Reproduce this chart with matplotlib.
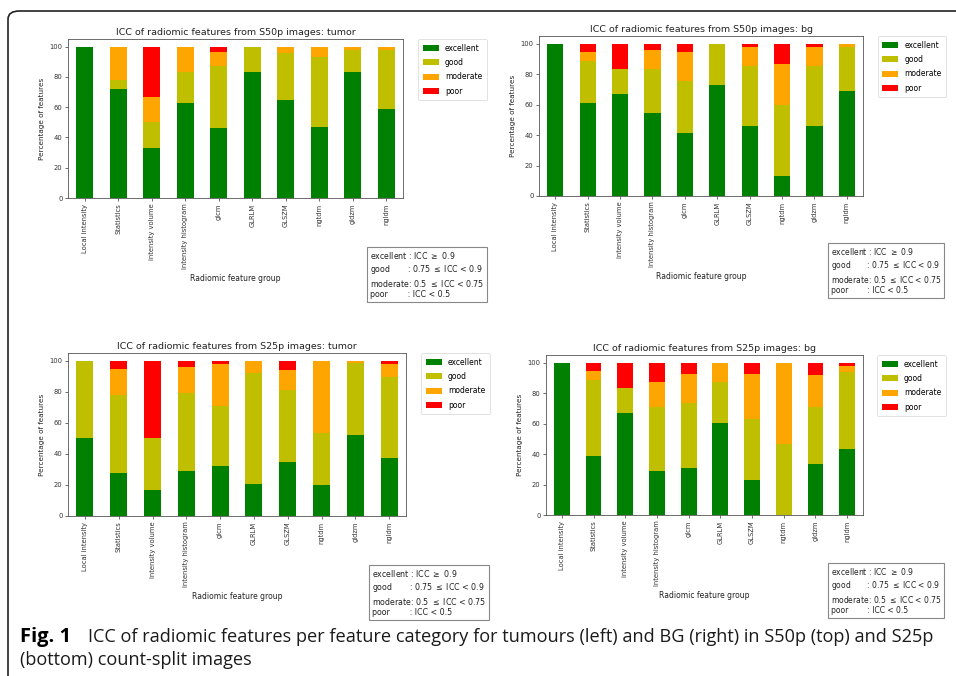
import matplotlib
matplotlib.use("Agg")
import matplotlib.pyplot as plt
from matplotlib.patches import FancyBboxPatch
import numpy as np

groups = ["Local intensity", "Statistics", "intensity volume", "Intensity histogram",
          "glcm", "GLRLM", "GLSZM", "ngtdm", "gldzm", "ngldm"]
levels = ["excellent", "good", "moderate", "poor"]
colors = ["#008000", "#BFBF00", "#FFA500", "#FF0000"]

# S50p tumor
s50_tumor_exc = [100, 72.2, 33.3, 62.5, 46.2, 83.3, 64.6, 46.7, 83.3, 58.5]
s50_tumor_good = [0, 5.6, 16.7, 20.8, 40.8, 16.7, 31.2, 46.7, 14.5, 39.3]
s50_tumor_mod = [0, 22.2, 16.7, 16.7, 9.3, 0, 4.2, 6.6, 2.2, 2.2]
s50_tumor_poor = [0, 0, 33.3, 0, 3.7, 0, 0, 0, 0, 0]

# S50p bg
s50_bg_exc = [100, 61.1, 66.7, 54.2, 41.4, 72.8, 46.1, 13.3, 46.1, 68.8]
s50_bg_good = [0, 27.8, 16.6, 29.2, 34.1, 27.2, 39.0, 46.7, 39.0, 29.2]
s50_bg_mod = [0, 5.5, 0, 12.5, 18.9, 0, 12.9, 26.7, 12.9, 2.0]
s50_bg_poor = [0, 5.6, 16.7, 4.1, 5.6, 0, 2.0, 13.3, 2.0, 0]

# S25p tumor
s25_tumor_exc = [50, 27.8, 16.7, 29.2, 32.1, 20.7, 35.1, 20.0, 52.2, 37.3]
s25_tumor_good = [50, 50.0, 33.3, 50.0, 38.6, 71.3, 45.9, 33.3, 46.3, 52.1]
s25_tumor_mod = [0, 16.7, 0, 16.6, 26.9, 8.0, 12.8, 46.7, 1.5, 8.7]
s25_tumor_poor = [0, 5.5, 50, 4.2, 2.4, 0, 6.2, 0, 0, 1.9]

# S25p bg
s25_bg_exc = [100, 38.9, 66.7, 29.2, 30.8, 60.5, 22.9, 0, 33.4, 43.2]
s25_bg_good = [0, 50.0, 16.6, 41.6, 43.0, 26.8, 40.0, 46.7, 37.3, 50.9]
s25_bg_mod = [0, 5.5, 0, 16.7, 18.6, 12.7, 29.5, 53.3, 21.2, 3.9]
s25_bg_poor = [0, 5.6, 16.7, 12.5, 7.6, 0, 7.6, 0, 8.1, 2.0]

titles = ["ICC of radiomic features from S50p images: tumor",
          "ICC of radiomic features from S50p images: bg",
          "ICC of radiomic features from S25p images: tumor",
          "ICC of radiomic features from S25p images: bg"]

panels = [
    [s50_tumor_exc, s50_tumor_good, s50_tumor_mod, s50_tumor_poor],
    [s50_bg_exc, s50_bg_good, s50_bg_mod, s50_bg_poor],
    [s25_tumor_exc, s25_tumor_good, s25_tumor_mod, s25_tumor_poor],
    [s25_bg_exc, s25_bg_good, s25_bg_mod, s25_bg_poor],
]

icc_text = ("excellent : ICC $\\geq$ 0.9\n"
            "good       : 0.75 $\\leq$ ICC < 0.9\n"
            "moderate: 0.5 $\\leq$ ICC < 0.75\n"
            "poor        : ICC < 0.5")

W, H = 956, 676
fig = plt.figure(figsize=(W / 100, H / 100), dpi=100)


def px(l, t, r, b):
    return [l / W, 1 - b / H, (r - l) / W, (b - t) / H]


axes_px = [(68, 39, 403, 198), (539, 36, 863, 196), (68, 353, 406, 516), (546, 355, 863, 515)]
box_px = [(370, 250), (831, 246), (372, 568), (831, 566)]
box_font = [5.7, 5.5, 5.7, 5.5]

for i, ax_box in enumerate(axes_px):
    ax = fig.add_axes(px(*ax_box))
    x = np.arange(len(groups))
    bottom = np.zeros(len(groups))
    for vals, lab, c in zip(panels[i], levels, colors):
        ax.bar(x, vals, 0.5, bottom=bottom, color=c, label=lab)
        bottom += np.array(vals)
    ax.set_xlim(-0.5, len(groups) - 0.5)
    ax.set_ylim(0, 105)
    ax.set_yticks([0, 20, 40, 60, 80, 100])
    ax.set_xticks(x)
    ax.set_xticklabels(groups, rotation=90)
    ax.tick_params(labelsize=4.9, length=2.5, width=0.5, pad=1.5, colors="#333333")
    for s in ax.spines.values():
        s.set_linewidth(0.6)
        s.set_color("#555555")
    ax.set_title(titles[i], fontsize=6.8, pad=3, color="#222222")
    ax.set_ylabel("Percentage of features", fontsize=5.2, labelpad=3, color="#222222")
    ax.set_xlabel("Radiomic feature group", fontsize=5.5, labelpad=3, color="#222222")
    leg = ax.legend(loc="upper left", bbox_to_anchor=(1.045, 1.0), fontsize=5.5,
                    borderaxespad=0, handlelength=2.1, handleheight=0.8,
                    labelspacing=0.7, borderpad=0.6, handletextpad=0.8)
    leg.get_frame().set_linewidth(0.5)
    bx, by = box_px[i]
    fig.text(bx / W, 1 - by / H, icc_text, fontsize=box_font[i], va="top", ha="left",
             linespacing=1.2, color="#222222",
             bbox=dict(boxstyle="square,pad=0.35", fc="white", ec="#888888", lw=0.8))

# outer frame
frame = FancyBboxPatch((8 / W, -0.2), 1.2, 1 - 11 / H + 0.2,
                       boxstyle="round,pad=0,rounding_size=0.012",
                       transform=fig.transFigure, fill=False, ec="#222222", lw=1.2)
fig.patches.append(frame)

fig.text(20 / W, 1 - 637 / H, "Fig. 1", fontsize=14.5, fontweight="bold",
         family="Open Sans", va="center", ha="left")
fig.text(88 / W, 1 - 637 / H,
         "ICC of radiomic features per feature category for tumours (left) and BG (right) in S50p (top) and S25p",
         fontsize=13.1, family="Open Sans", va="center", ha="left", color="#1a1a1a")
fig.text(20 / W, 1 - 660 / H, "(bottom) count-split images", fontsize=13.1,
         family="Open Sans", va="center", ha="left", color="#1a1a1a")

fig.savefig("out.png", dpi=100)
